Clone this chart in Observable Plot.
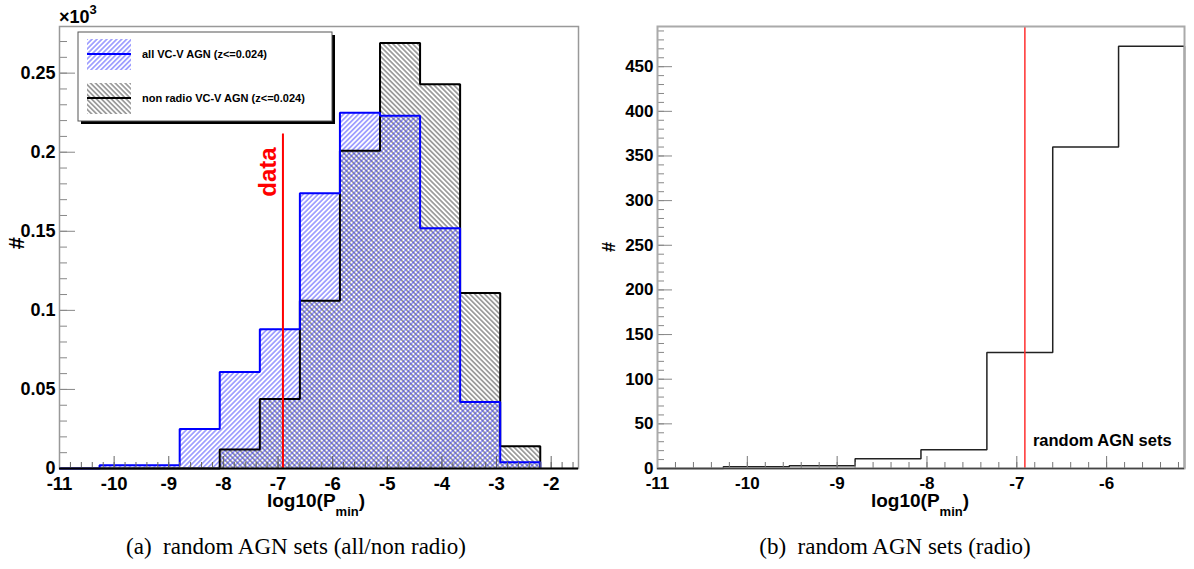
<!DOCTYPE html>
<html><head><meta charset="utf-8">
<script src="https://cdn.jsdelivr.net/npm/d3@7"></script>
<script src="https://cdn.jsdelivr.net/npm/@observablehq/plot@0.6"></script>
<style>
body{margin:0;background:#fff;}
#wrap{position:relative;width:1194px;height:569px;overflow:hidden;font-family:"Liberation Sans",Arial,sans-serif;}
.panel{position:absolute;top:0;}
.cap{position:absolute;top:534px;font-family:"Liberation Serif","Times New Roman",serif;font-size:23px;white-space:nowrap;transform:translateX(-50%);color:#000;}
</style></head><body>
<div id="wrap">
  <div id="pa" class="panel" style="left:0"></div>
  <div id="pb" class="panel" style="left:597px"></div>
  <div class="cap" style="left:296px">(a)&nbsp;&nbsp;random AGN sets (all/non radio)</div>
  <div class="cap" style="left:895px">(b)&nbsp;&nbsp;random AGN sets (radio)</div>
</div>
<script>
// ---- data ----
const binEdges = [-11, -10.267, -9.533, -8.8, -8.067, -7.333, -6.6, -5.867, -5.133, -4.4, -3.667, -2.933, -2.2];
const allAgn = [0, 0.002, 0.002, 0.025, 0.061, 0.088, 0.174, 0.225, 0.223, 0.152, 0.042, 0.004]; // x10^3
const nonRadioAgn = [0, 0, 0, 0, 0.012, 0.044, 0.106, 0.201, 0.269, 0.243, 0.111, 0.014];     // x10^3
const radioAgn = [0, 2, 3, 11, 21, 130, 360, 473];
const dataValue = -6.91;
const dataLineTop = 0.2115;
const leftXTicks = [-11, -10, -9, -8, -7, -6, -5, -4, -3, -2];
const leftYTicks = [0, 0.05, 0.1, 0.15, 0.2, 0.25];
const rightXTicks = [-11, -10, -9, -8, -7, -6];
const rightYTicks = [0, 50, 100, 150, 200, 250, 300, 350, 400, 450];
const legendLabels = ["all VC-V AGN (z<=0.024)", "non radio VC-V AGN (z<=0.024)"];
const labelText = "random AGN sets";
const dataLabel = "data";

function bins(vals) { return vals.map((v, i) => ({x1: binEdges[i], x2: binEdges[i + 1], y1: 0, y2: v})); }
function outline(vals) {
  const pts = [{x: binEdges[0], y: 0}];
  vals.forEach((v, i) => { pts.push({x: binEdges[i], y: v}); pts.push({x: binEdges[i + 1], y: v}); });
  pts.push({x: binEdges[vals.length], y: 0});
  return pts;
}
const FONT = "Liberation Sans, Arial, Helvetica, sans-serif";
const H = 520;

function addPatterns(svg) {
  const defs = d3.select(svg).insert("defs", ":first-child");
  const pb = defs.append("pattern").attr("id", "hatchBlue").attr("patternUnits", "userSpaceOnUse")
    .attr("width", 3.5).attr("height", 3.5).attr("patternTransform", "rotate(45)");
  pb.append("line").attr("x1", 1.75).attr("y1", -1).attr("x2", 1.75).attr("y2", 4.5).attr("stroke", "#3a3aff").attr("stroke-width", 0.85);
  const pk = defs.append("pattern").attr("id", "hatchBlack").attr("patternUnits", "userSpaceOnUse")
    .attr("width", 3.5).attr("height", 3.5).attr("patternTransform", "rotate(-45)");
  pk.append("line").attr("x1", 1.75).attr("y1", -1).attr("x2", 1.75).attr("y2", 4.5).attr("stroke", "#333").attr("stroke-width", 0.85);
}
function xTitle(svg, cx) {
  const t = d3.select(svg).append("text").attr("x", cx).attr("y", 507).attr("text-anchor", "middle")
    .attr("font-weight", "bold").attr("font-size", 19).attr("font-family", FONT).attr("fill", "#000");
  t.append("tspan").text("log10(P");
  t.append("tspan").attr("font-size", 13).attr("dy", 9).text("min");
  t.append("tspan").attr("dy", -9).text(")");
}
function yTitle(svg, x, y, size) {
  d3.select(svg).append("text").attr("transform", `translate(${x},${y}) rotate(-90)`)
    .attr("text-anchor", "middle").attr("font-weight", "bold").attr("font-size", size)
    .attr("font-family", FONT).attr("fill", "#000").text("#");
}
function xLabels(ticks, size) {
  return Plot.text(ticks, {x: d => d, text: d => String(d), frameAnchor: "bottom", lineAnchor: "top", dy: 8,
    fontSize: size, fontWeight: "bold", fill: "#000"});
}
function yLabels(ticks, size) {
  return Plot.text(ticks, {y: d => d, text: d => String(d), frameAnchor: "left", textAnchor: "end", dx: -4,
    fontSize: size, fontWeight: "bold", fill: "#000"});
}

// ---- left panel ----
const left = Plot.plot({
  width: 597, height: H, marginLeft: 59, marginRight: 19, marginTop: 26, marginBottom: H - 468,
  x: {domain: [-11, -1.5], label: null},
  y: {domain: [0, 0.2795], label: null},
  style: {fontFamily: FONT, background: "transparent", overflow: "visible"},
  marks: [
    Plot.rect(bins(nonRadioAgn), {x1: "x1", x2: "x2", y1: "y1", y2: "y2", fill: "url(#hatchBlack)"}),
    Plot.rect(bins(allAgn), {x1: "x1", x2: "x2", y1: "y1", y2: "y2", fill: "url(#hatchBlue)"}),
    Plot.line(outline(nonRadioAgn), {x: "x", y: "y", stroke: "#000", strokeWidth: 2, strokeLinejoin: "miter", strokeLinecap: "butt"}),
    Plot.line(outline(allAgn), {x: "x", y: "y", stroke: "#0000ff", strokeWidth: 2, strokeLinejoin: "miter", strokeLinecap: "butt"}),
    Plot.ruleX([dataValue], {y1: 0, y2: dataLineTop, stroke: "#ff0000", strokeWidth: 2}),
    Plot.text([dataLabel], {x: dataValue, y: 0.1875, text: d => d, rotate: -90, dx: -15, fill: "#ff0000", fontSize: 24, fontWeight: "bold"}),
    Plot.axisX({ticks: d3.range(-11, -1.5, 0.2), tickSize: 6, dy: -6, tickFormat: () => "", stroke: "#666"}),
    Plot.axisX({ticks: leftXTicks, tickSize: 12, dy: -12, tickFormat: () => "", stroke: "#666"}),
    xLabels(leftXTicks, 18.5),
    Plot.axisY({ticks: d3.range(0, 0.279, 0.01), tickSize: 8, dx: 8, tickFormat: () => "", stroke: "#888"}),
    Plot.axisY({ticks: leftYTicks, tickSize: 16, dx: 16, tickFormat: () => "", stroke: "#888"}),
    yLabels(leftYTicks, 18),
    Plot.frame({stroke: "#999", strokeWidth: 1.5}),
    Plot.ruleY([0], {stroke: "#000", strokeWidth: 2})
  ]
});
addPatterns(left);
xTitle(left, 316);
yTitle(left, 24, 243, 22);
{
  const s = d3.select(left);
  const t = s.append("text").attr("x", 59).attr("y", 23).attr("text-anchor", "start").attr("font-weight", "bold")
    .attr("font-size", 18).attr("font-family", FONT).attr("fill", "#000");
  t.append("tspan").text("\u00d710");
  t.append("tspan").attr("font-size", 13).attr("dy", -9).text("3");
  // legend
  const g = s.append("g");
  g.append("rect").attr("x", 81).attr("y", 35).attr("width", 254).attr("height", 89).attr("fill", "#000");
  g.append("rect").attr("x", 78).attr("y", 32).attr("width", 254).attr("height", 89).attr("fill", "#fff").attr("stroke", "#555").attr("stroke-width", 1);
  const rows = [{y: 39, fill: "url(#hatchBlue)", stroke: "#0000ff"}, {y: 83, fill: "url(#hatchBlack)", stroke: "#000"}];
  rows.forEach((r, i) => {
    g.append("rect").attr("x", 87).attr("y", r.y).attr("width", 44).attr("height", 31).attr("fill", r.fill);
    g.append("line").attr("x1", 87).attr("x2", 131).attr("y1", r.y + 15).attr("y2", r.y + 15).attr("stroke", r.stroke).attr("stroke-width", 2);
    g.append("text").attr("x", 142).attr("y", r.y + 15).attr("dy", "0.35em").attr("text-anchor", "start")
      .attr("font-size", 11).attr("font-weight", "bold").attr("font-family", FONT).attr("fill", "#000").text(legendLabels[i]);
  });
}
document.getElementById("pa").appendChild(left);

// ---- right panel ----
const right = Plot.plot({
  width: 597, height: H, marginLeft: 60, marginRight: 10, marginTop: 26, marginBottom: H - 468,
  x: {domain: [-11, binEdges[8]], label: null},
  y: {domain: [0, 495], label: null},
  style: {fontFamily: FONT, background: "transparent", overflow: "visible"},
  marks: [
    Plot.line(outline(radioAgn), {x: "x", y: "y", stroke: "#222", strokeWidth: 1.5, strokeLinejoin: "miter", strokeLinecap: "butt"}),
    Plot.ruleX([dataValue], {stroke: "#ff3030", strokeWidth: 1.5}),
    Plot.text([labelText], {x: dataValue, y: 31, text: d => d, dx: 8, textAnchor: "start", fontSize: 16.5, fontWeight: "bold", fill: "#000"}),
    Plot.axisX({ticks: d3.range(-11, -5.13, 0.2), tickSize: 6, dy: -6, tickFormat: () => "", stroke: "#777"}),
    Plot.axisX({ticks: rightXTicks, tickSize: 12, dy: -12, tickFormat: () => "", stroke: "#777"}),
    xLabels(rightXTicks, 17),
    Plot.axisY({ticks: d3.range(0, 495, 10), tickSize: 7, dx: 7, tickFormat: () => "", stroke: "#888"}),
    Plot.axisY({ticks: rightYTicks, tickSize: 15, dx: 15, tickFormat: () => "", stroke: "#888"}),
    yLabels(rightYTicks, 17),
    Plot.frame({stroke: "#aaa", strokeWidth: 2}),
    Plot.ruleY([0], {stroke: "#444", strokeWidth: 1.5})
  ]
});
xTitle(right, 323);
yTitle(right, 18, 247, 18);
document.getElementById("pb").appendChild(right);
</script>
</body></html>
